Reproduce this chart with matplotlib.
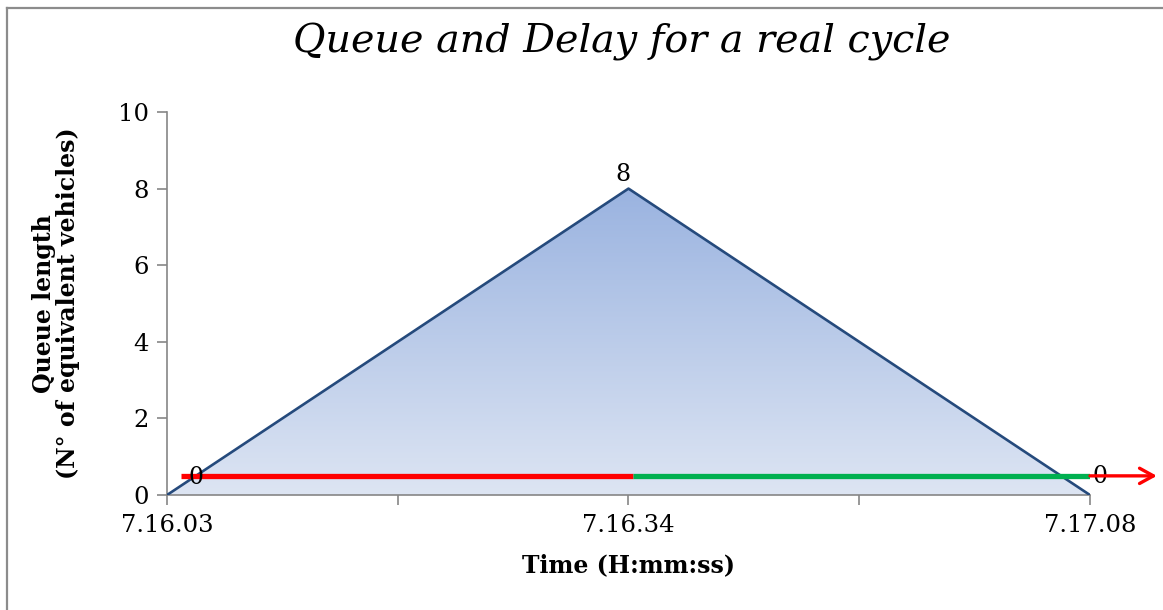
import numpy as np
import matplotlib.pyplot as plt
from matplotlib.patches import Polygon
from matplotlib.lines import Line2D
from matplotlib.colors import LinearSegmentedColormap

plt.rcParams['font.family'] = 'DejaVu Serif'

# queue length at each observed time
times = ['7.16.03', '7.16.34', '7.17.08']
queue = [0, 8, 0]

# signal phases drawn at the foot of the queue (start, end in category units)
phase_colors = ['#FF0000', '#00B050']
phase_start = [0.03, 1.01]
phase_end = [1.01, 2.0]
phase_level = 0.5

x = np.arange(len(times))

fig = plt.figure(figsize=(11.63, 6.10), dpi=100)
ax = fig.add_axes([0.1436, 0.1885, 0.7936, 0.6279])

# gradient fill under the queue curve
poly_pts = [(x[0], 0)] + list(zip(x, queue)) + [(x[-1], 0)]
clip = Polygon(poly_pts, closed=True, facecolor='none', edgecolor='none')
ax.add_patch(clip)
cmap = LinearSegmentedColormap.from_list('fade', ['#DDE5F3', '#9AB3E0'])
grad = np.linspace(0, 1, 256).reshape(-1, 1)
img = ax.imshow(grad, cmap=cmap, origin='lower', aspect='auto',
                extent=[x[0], x[-1], 0, max(queue)], zorder=1)
img.set_clip_path(clip)
ax.plot(x, queue, color='#254A7C', lw=1.9, zorder=3)

# data labels
offsets = [(29, 18), (-6, 14), (10, 19)]
for xi, q, off in zip(x, queue, offsets):
    ax.annotate(str(q), (xi, q), xytext=off, textcoords='offset pixels',
                ha='center', va='center', fontsize=17, zorder=5)

# red / green phases
for c, s, e in zip(phase_colors, phase_start, phase_end):
    ax.plot([s, e], [phase_level, phase_level], color=c, lw=3.8,
            solid_capstyle='butt', zorder=4)
ax.annotate('', xy=(2.145, phase_level), xytext=(2.0, phase_level),
            arrowprops=dict(arrowstyle='->,head_length=1.0,head_width=0.55',
                            color='#FF0000', lw=2.4, shrinkA=0, shrinkB=0),
            annotation_clip=False, zorder=6)

ax.set_xlim(0, 2)
ax.set_ylim(0, 10)
ax.set_xticks([0, 0.5, 1, 1.5, 2])
ax.set_xticklabels([times[0], '', times[1], '', times[2]])
ax.set_yticks(range(0, 11, 2))
ax.tick_params(axis='both', direction='out', length=7, width=1.2,
               color='#868686', labelsize=17.5)
ax.tick_params(axis='x', pad=7)
ax.tick_params(axis='y', pad=6)
for side in ['top', 'right']:
    ax.spines[side].set_visible(False)
for side in ['left', 'bottom']:
    ax.spines[side].set_color('#868686')
    ax.spines[side].set_linewidth(1.2)

ax.set_xlabel('Time (H:mm:ss)', fontsize=17, fontweight='bold', labelpad=11)
ax.set_ylabel('Queue length\n(N° of equivalent vehicles)', fontsize=17,
              fontweight='bold', labelpad=27, linespacing=1.0)
fig.suptitle('Queue and Delay for a real cycle', fontsize=28.5, style='italic',
             x=0.535, y=0.962)

# chart frame (top and left edges)
fig.add_artist(Line2D([0.0064, 1], [0.9877, 0.9877], color='#8C8C8C', lw=1.6))
fig.add_artist(Line2D([0.0064, 0.0064], [0, 0.9877], color='#8C8C8C', lw=1.6))

fig.savefig('out.png', dpi=100)
